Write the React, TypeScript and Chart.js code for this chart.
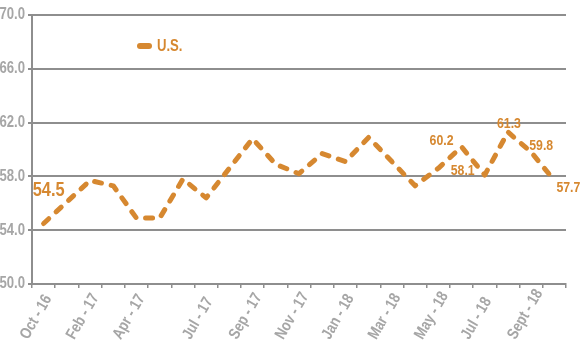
import React, { useEffect, useRef } from 'react';
import { Chart, registerables } from 'chart.js';

Chart.register(...registerables);

// Category labels (blank entries are unlabeled months)
const categories = [
  'Oct - 16', '', 'Feb - 17', '', 'Apr - 17', '', '', 'Jul - 17', '', 'Sep - 17', '',
  'Nov - 17', '', 'Jan - 18', '', 'Mar - 18', '', 'May - 18', '', 'Jul - 18', '', 'Sept - 18', '',
];

// U.S. series values
const usValues = [
  54.5, 56.1, 57.7, 57.3, 54.9, 54.9, 57.8, 56.4, 58.6, 60.8, 58.9,
  58.2, 59.7, 59.1, 60.9, 59.1, 57.3, 58.6, 60.2, 58.1, 61.3, 59.8, 57.7,
];

// Y axis range / ticks
const yMin = 50;
const yMax = 70;
const yStep = 4;

// Points that carry a value label
const labeledPoints = [0, 18, 19, 20, 21, 22];

const FONT = '"Liberation Sans", Arial, sans-serif';
const SQUEEZE = 0.82; // emulate a narrow/condensed face
const ORANGE = '#D68830';
const GRID = '#8e8e8e';
const TICK_TEXT = '#a6a6a6';

const labelPlacement: Record<number, { dx: number; dy: number; size: number }> = {
  0: { dx: 5, dy: -33, size: 20 },
  18: { dx: -20, dy: -6, size: 15 },
  19: { dx: -22, dy: -4, size: 15 },
  20: { dx: 1, dy: -8, size: 15 },
  21: { dx: 10, dy: -6, size: 15 },
  22: { dx: 14, dy: 7, size: 15 },
};

function drawNarrowText(
  ctx: CanvasRenderingContext2D,
  text: string,
  x: number,
  y: number,
  size: number,
  color: string,
  align: CanvasTextAlign,
  rotation = 0
) {
  ctx.save();
  ctx.translate(x, y);
  if (rotation) ctx.rotate(rotation);
  ctx.scale(SQUEEZE, 1);
  ctx.font = `bold ${size}px ${FONT}`;
  ctx.fillStyle = color;
  ctx.textAlign = align;
  ctx.textBaseline = 'middle';
  ctx.fillText(text, 0, 0);
  ctx.restore();
}

const axisTextPlugin = {
  id: 'axisText',
  afterDraw(chart: any) {
    const ctx = chart.ctx as CanvasRenderingContext2D;
    const ys = chart.scales.y;
    const xs = chart.scales.x;
    ys.ticks.forEach((t: any, i: number) => {
      const py = ys.getPixelForTick(i);
      drawNarrowText(ctx, Number(t.value).toFixed(1), ys.right - 7, py, 16, TICK_TEXT, 'right');
    });
    categories.forEach((lbl, i) => {
      if (!lbl) return;
      const px = xs.getPixelForValue(i);
      drawNarrowText(ctx, lbl, px - 19.5, xs.top + 54, 16, TICK_TEXT, 'left', -Math.PI / 3);
    });
  },
};

const valueLabelPlugin = {
  id: 'valueLabels',
  afterDatasetsDraw(chart: any) {
    const meta = chart.getDatasetMeta(0);
    const ctx = chart.ctx as CanvasRenderingContext2D;
    for (const idx of labeledPoints) {
      const pt = meta.data[idx];
      const p = labelPlacement[idx];
      drawNarrowText(ctx, usValues[idx].toFixed(1), pt.x + p.dx, pt.y + p.dy, p.size, ORANGE, 'center');
    }
  },
};

const insideLegendPlugin = {
  id: 'insideLegend',
  afterDraw(chart: any) {
    const { chartArea } = chart;
    const ctx = chart.ctx as CanvasRenderingContext2D;
    const ds = chart.data.datasets[0];
    const x0 = chartArea.left + 108;
    const y0 = chartArea.top + 31;
    ctx.save();
    ctx.strokeStyle = ORANGE;
    ctx.lineWidth = 6;
    ctx.lineCap = 'round';
    ctx.beginPath();
    ctx.moveTo(x0, y0);
    ctx.lineTo(x0 + 9, y0);
    ctx.stroke();
    ctx.restore();
    drawNarrowText(ctx, ds.label, x0 + 17, y0 + 0.5, 16, ORANGE, 'left');
  },
};

export default function App() {
  const canvasRef = useRef<HTMLCanvasElement | null>(null);

  useEffect(() => {
    if (!canvasRef.current) return;
    const chart = new Chart(canvasRef.current, {
      type: 'line',
      data: {
        labels: categories,
        datasets: [
          {
            label: 'U.S.',
            data: usValues,
            borderColor: ORANGE,
            backgroundColor: ORANGE,
            borderWidth: 5,
            borderDash: [7, 10],
            borderCapStyle: 'round',
            borderJoinStyle: 'round',
            pointRadius: 0,
            tension: 0,
            fill: false,
          },
        ],
      },
      options: {
        responsive: false,
        animation: false,
        layout: { padding: { top: 15, right: 22, left: 0, bottom: 0 } },
        plugins: {
          legend: { display: false },
          tooltip: { enabled: false },
        },
        scales: {
          x: {
            type: 'category',
            offset: true,
            grid: {
              display: true,
              offset: true,
              drawOnChartArea: false,
              drawTicks: true,
              tickLength: 4,
              color: GRID,
              lineWidth: 1.5,
            },
            border: { display: true, color: GRID, width: 2 },
            ticks: {
              display: false,
              autoSkip: false,
            },
            afterFit(scale: any) {
              scale.height = 69;
            },
          },
          y: {
            min: yMin,
            max: yMax,
            ticks: {
              display: false,
              stepSize: yStep,
            },
            grid: {
              color: GRID,
              lineWidth: 2,
              drawTicks: true,
              tickLength: 4,
            },
            border: { display: true, color: GRID, width: 2 },
            afterFit(scale: any) {
              scale.width = 32;
            },
          },
        },
      },
      plugins: [valueLabelPlugin, insideLegendPlugin, axisTextPlugin],
    });
    return () => chart.destroy();
  }, []);

  return (
    <div style={{ position: 'fixed', left: 0, top: 0, width: 588, height: 353, background: '#fff' }}>
      <canvas ref={canvasRef} width={588} height={353} />
    </div>
  );
}
